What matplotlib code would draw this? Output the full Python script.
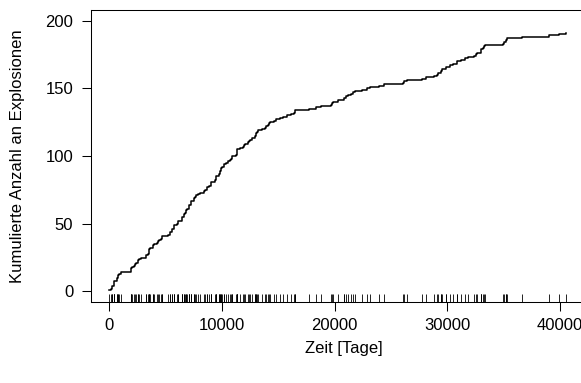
import numpy as np
import matplotlib.pyplot as plt

plt.rcParams['font.family'] = ['Liberation Sans', 'DejaVu Sans']

# Tage zwischen aufeinanderfolgenden Explosionen (erste Explosion bei Tag 0)
intervals = [157, 123, 2, 124, 12, 4, 10, 216, 80, 12,
             33, 66, 232, 826, 40, 12, 29, 190, 97, 65,
             186, 23, 92, 197, 431, 16, 154, 95, 25, 19,
             78, 202, 36, 110, 276, 16, 88, 225, 53, 17,
             538, 187, 34, 101, 41, 139, 42, 1, 250, 80,
             3, 324, 56, 31, 96, 70, 41, 93, 24, 91,
             143, 16, 27, 144, 45, 6, 208, 29, 112, 43,
             193, 134, 420, 95, 125, 34, 127, 218, 2, 0,
             378, 36, 15, 31, 215, 11, 137, 4, 15, 72,
             96, 124, 50, 120, 203, 176, 55, 93, 59, 315,
             59, 61, 1, 13, 189, 345, 20, 81, 286, 114,
             108, 188, 233, 28, 22, 61, 78, 99, 326, 275,
             54, 217, 113, 32, 388, 151, 361, 312, 354, 307,
             275, 78, 17, 1205, 644, 467, 871, 48, 123, 456,
             498, 49, 131, 182, 255, 194, 224, 566, 462, 228,
             806, 517, 1643, 54, 326, 1312, 348, 745, 217, 120,
             275, 20, 66, 292, 4, 368, 307, 336, 19, 329,
             330, 312, 536, 145, 75, 364, 37, 19, 156, 47,
             129, 1630, 29, 217, 7, 18, 1358, 2366, 952, 632]
xticks = [0, 10000, 20000, 30000, 40000]
yticks = [0, 50, 100, 150, 200]

zeit = np.concatenate([[0], np.cumsum(intervals)])
anzahl = np.arange(1, len(zeit) + 1)

W, H = 581, 383
fig = plt.figure(figsize=(W / 100, H / 100), dpi=100)
l, r, t, b = 90.5, 597, 9.7, 302.3
ax = fig.add_axes([l / W, 1 - b / H, (r - l) / W, (b - t) / H])

ax.plot(zeit, anzahl, drawstyle='steps-post', color='black', lw=1.1)

# rug
for z in zeit:
    ax.plot([z, z], [0, 0.03], transform=ax.get_xaxis_transform(),
            color='black', lw=0.6, solid_capstyle='butt')

ax.set_xlim(-1664, 43264)
ax.set_ylim(-8, 208)
ax.set_xticks(xticks)
ax.set_yticks(yticks)
fs = 12
ax.tick_params(direction='out', length=6.5, width=0.75, labelsize=fs, colors='black')
ax.tick_params(axis='x', pad=5)
ax.tick_params(axis='y', pad=6)
for s in ax.spines.values():
    s.set_linewidth(0.75)

fig.text(((l + r) / 2) / W, 1 - 348 / H, 'Zeit [Tage]', fontsize=fs,
         ha='center', va='center')
fig.text(18 / W, 1 - ((t + b) / 2) / H, 'Kumulierte Anzahl an Explosionen',
         fontsize=fs, ha='center', va='center', rotation=90)

fig.savefig('out.png', dpi=100)
